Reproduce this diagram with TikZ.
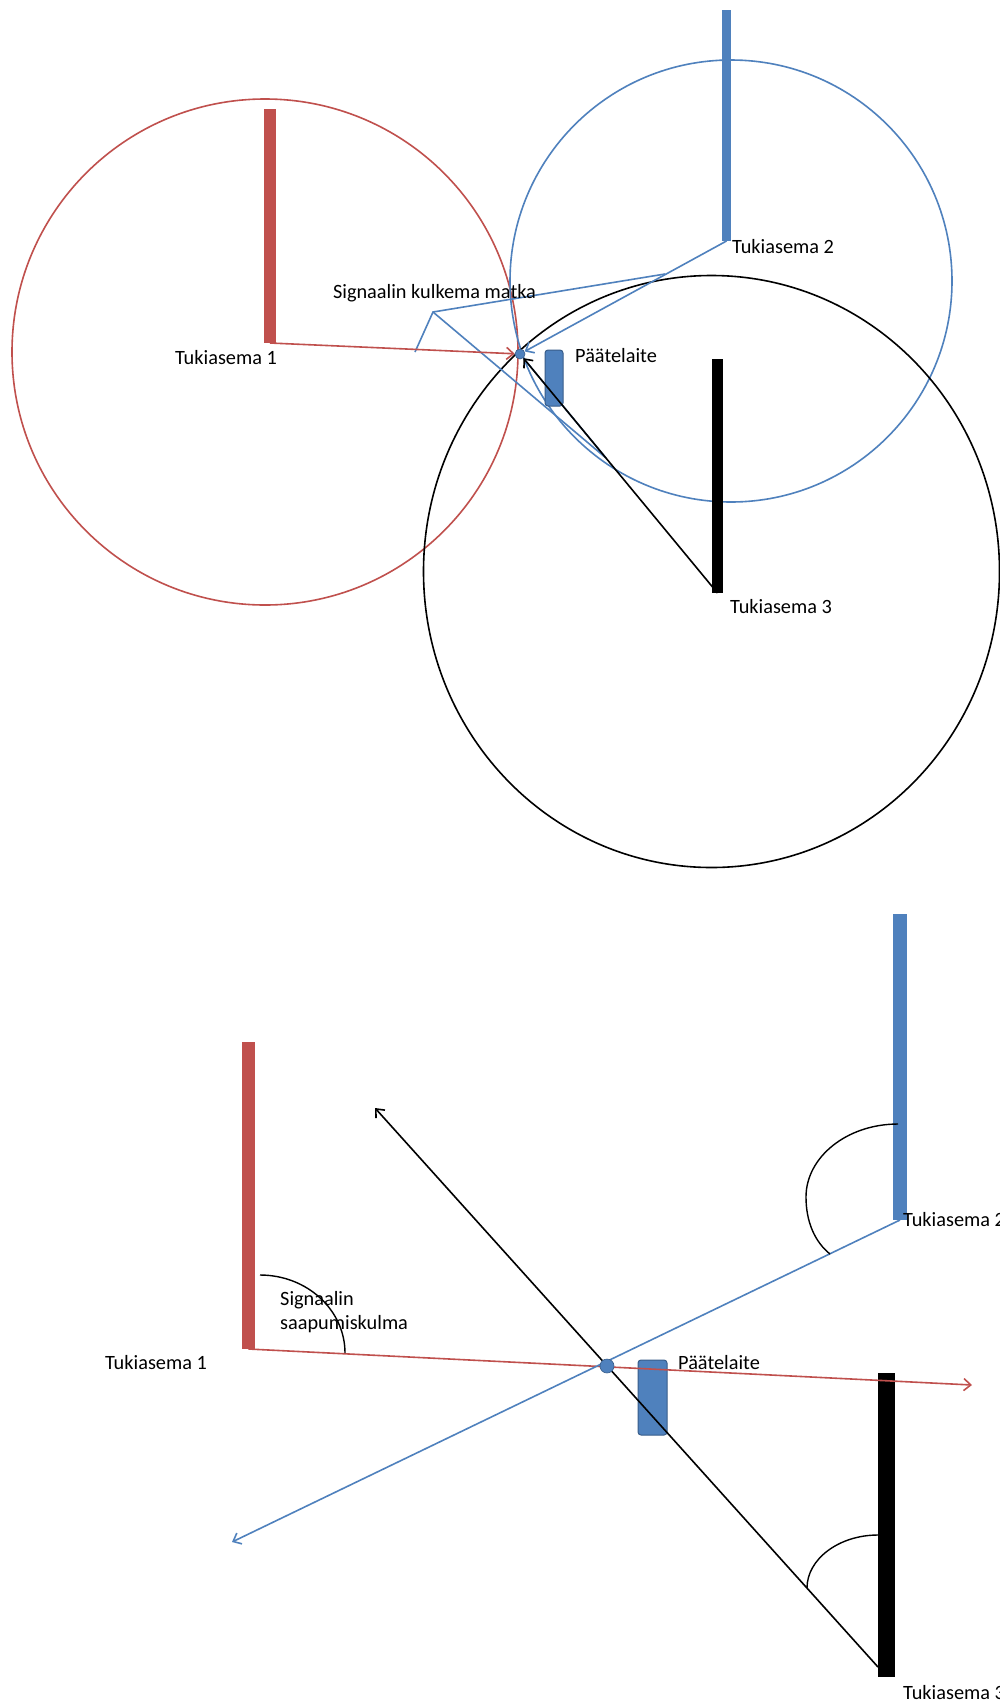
\documentclass[tikz,border=0pt]{standalone}
\usepackage{fontspec}
\setmainfont{Carlito}
\usetikzlibrary{arrows.meta}
\definecolor{tred}{HTML}{C0504D}
\definecolor{tblue}{HTML}{4F81BD}
\definecolor{tbluedk}{HTML}{385D8A}
\begin{document}
\begin{tikzpicture}[x=1pt,y=-1pt,
  lbl/.style={inner sep=0pt,font=\fontsize{20.3}{24.5}\selectfont},
  ring/.style={line width=1.6pt},
  sig/.style={line width=1.6pt,-{Straight Barb[length=7pt,width=12pt,line width=1.6pt]}},
  devbox/.style={fill=tblue,draw=tbluedk,line width=1pt,rounded corners=3pt},
  devdot/.style={circle,fill=tblue,draw=tbluedk,line width=0.6pt,inner sep=0pt},
  anglearc/.style={line width=1.4pt,black}]
\useasboundingbox (0,0) rectangle (1000,1706);
\fill[white] (0,0) rectangle (1000,1706);

% ===== top part =====
\coordinate (t1top) at (270,109);
\coordinate (t1) at (270,343);
\coordinate (t2top) at (726.5,10);
\coordinate (t2) at (726.5,241);
\coordinate (t3top) at (717.5,359);
\coordinate (t3) at (717.5,593);

\draw[tred,ring] (265,352) circle[radius=253];
\draw[tblue,ring] (731,281) circle[radius=221];
\draw[black,ring] (711.5,571.5) ellipse[x radius=288,y radius=296];

\draw[tred,line width=12pt] (t1top) -- (t1);
\draw[tblue,line width=9pt] (t2top) -- (t2);
\draw[black,line width=11pt] (t3top) -- (t3);

\node[devbox,minimum width=18pt,minimum height=56pt,inner sep=0pt] (dev) at (554,378) {};
\node[devdot,minimum size=10pt] (d) at (520,354) {};

% signal distance indicator
\coordinate (s0) at (433,312);
\coordinate (sr) at (415,352);
\coordinate (sb) at (665,274);
\coordinate (sk) at (606,458);
\draw[tblue,line width=1.6pt] (sr) -- (s0) -- (sb);
\draw[tblue,line width=1.6pt] (s0) -- (sk) -- (d);

\draw[sig,tred] (t1) -- (d);
\draw[sig,tblue] (t2) -- (d);
\draw[sig,black] (t3) -- (d);

\node[lbl] (l1) at (226,358) {Tukiasema 1};
\node[lbl,anchor=west] (l2) at (732,247) {Tukiasema 2};
\node[lbl] (l3) at (781,607) {Tukiasema 3};
\node[lbl] (lsig) at (434.5,293) {Signaalin kulkema matka};
\node[lbl,anchor=west] (ldev) at (575,356) {Päätelaite};

% ===== bottom part =====
\coordinate (b1top) at (248.5,1042);
\coordinate (b1) at (248.5,1349);
\coordinate (b2top) at (900,914);
\coordinate (b2) at (900,1220);
\coordinate (b3top) at (886.5,1373);
\coordinate (b3) at (886.5,1677);
\coordinate (b3s) at (878,1667);

\draw[tred,line width=13pt] (b1top) -- (b1);
\draw[tblue,line width=14pt] (b2top) -- (b2);
\draw[black,line width=17pt] (b3top) -- (b3);

\node[devbox,minimum width=29pt,minimum height=75pt,inner sep=0pt] (dev2) at (652.5,1397.5) {};

\coordinate (e1) at (972,1385);
\coordinate (e2) at (232,1542);
\coordinate (e3) at (375,1108);
\draw[sig,tred] (b1) -- (e1);
\draw[sig,tblue] (b2) -- (e2);
\draw[sig,black] (b3s) -- (e3);
\node[devdot,minimum size=14pt] (d2) at (607,1366) {};

\draw[anglearc] (260,1275) .. controls (307,1275) and (345,1310) .. (345,1353);
\draw[anglearc] (898,1124) .. controls (847,1124) and (806,1157) .. (806,1197)
                 .. controls (806,1222) and (815,1242) .. (830,1254);
\draw[anglearc] (878,1535) .. controls (839,1535) and (807,1559) .. (807,1588);

\node[lbl] (m1) at (156,1363) {Tukiasema 1};
\node[lbl,anchor=west] (m2) at (903,1220) {Tukiasema 2};
\node[lbl,anchor=west] (m3) at (903,1693) {Tukiasema 3};
\node[lbl,anchor=west] (mdev) at (678,1363) {Päätelaite};
\node[lbl,anchor=north west,align=left] (mang) at (280,1291) {Signaalin\\saapumiskulma};
\end{tikzpicture}
\end{document}
